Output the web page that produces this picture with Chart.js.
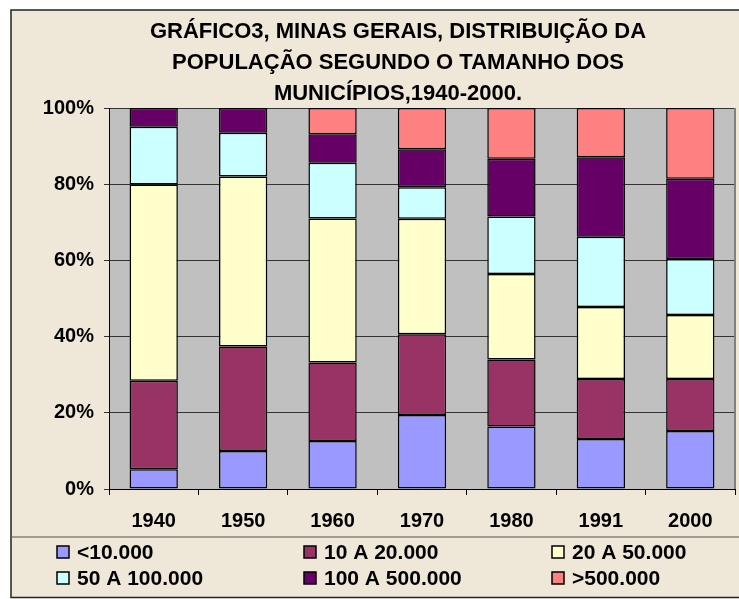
<!DOCTYPE html>
<html lang="pt-BR">
<head>
<meta charset="UTF-8">
<title>Gráfico 3 - Minas Gerais</title>
<script src="https://cdn.jsdelivr.net/npm/chart.js"></script>
<style>
    body { margin: 0; background: #fff; }
    #wrap { width: 739px; height: 599px; }
</style>
</head>
<body>
<div id="wrap"><canvas id="grafico" width="739" height="599"></canvas></div>
<script>
// dados (% da população)
const anos = ['1940', '1950', '1960', '1970', '1980', '1991', '2000'];
const faixas = ['<10.000', '10 A 20.000', '20 A 50.000', '50 A 100.000', '100 A 500.000', '>500.000'];
const ate10mil     = [5.2, 10.0, 12.6, 19.4, 16.4, 13.1, 15.2];
const de10a20mil   = [23.2, 27.4, 20.6, 21.2, 17.6, 15.8, 13.7];
const de20a50mil   = [51.5, 44.6, 37.8, 30.3, 22.4, 18.9, 16.8];
const de50a100mil  = [15.2, 11.5, 14.6, 8.3, 15.1, 18.4, 14.7];
const de100a500mil = [4.9, 6.5, 7.5, 10.0, 15.2, 20.9, 21.0];
const acima500mil  = [0, 0, 6.9, 10.8, 13.3, 12.9, 18.6];
const cores = ['#9999FF', '#993366', '#FFFFCC', '#CCFFFF', '#660066', '#FF8080'];
const titulo = ['GRÁFICO3, MINAS GERAIS, DISTRIBUIÇÃO DA', 'POPULAÇÃO SEGUNDO O TAMANHO DOS', 'MUNICÍPIOS,1940-2000.'];

const series = [ate10mil, de10a20mil, de20a50mil, de50a100mil, de100a500mil, acima500mil];
const fonte = "'Liberation Sans', Arial, sans-serif";

// fundo bege, moldura, área cinza
const fundo = {
    id: 'fundo',
    beforeDraw(chart) {
        const c = chart.ctx, a = chart.chartArea;
        c.save();
        c.fillStyle = '#fff';
        c.fillRect(0, 0, chart.width, chart.height);
        c.fillStyle = '#EFE7D7';
        c.fillRect(11, 10, chart.width, 588);
        c.fillStyle = '#C0C0C0';
        c.fillRect(a.left, a.top, a.right - a.left, a.bottom - a.top);
        c.restore();
    },
    afterDraw(chart) {
        const c = chart.ctx, a = chart.chartArea;
        c.save();
        // borda direita da área de plotagem
        c.strokeStyle = '#808080';
        c.lineWidth = 2;
        c.beginPath();
        c.moveTo(a.right, a.top);
        c.lineTo(a.right, a.bottom);
        c.stroke();
        // moldura do gráfico
        c.strokeStyle = '#222';
        c.lineWidth = 1.5;
        c.strokeRect(11, 10, chart.width + 20, 587.5);
        c.strokeStyle = '#555';
        c.lineWidth = 1.2;
        c.beginPath();
        c.moveTo(11, 537);
        c.lineTo(chart.width, 537);
        c.stroke();
        // título
        c.fillStyle = '#000';
        c.font = 'bold 22px ' + fonte;
        c.textAlign = 'center';
        c.textBaseline = 'middle';
        titulo.forEach((t, i) => c.fillText(t, 398, 32 + i * 31));
        // legenda em 3 colunas
        const colX = [57, 304, 552];
        const linY = [552, 578];
        c.font = 'bold 21px ' + fonte;
        c.textAlign = 'left';
        chart.data.datasets.forEach((ds, i) => {
            const x = colX[i % 3], y = linY[Math.floor(i / 3)];
            c.fillStyle = ds.backgroundColor;
            c.fillRect(x, y - 6, 12, 12);
            c.strokeStyle = '#000';
            c.lineWidth = 1.5;
            c.strokeRect(x, y - 6, 12, 12);
            c.fillStyle = '#000';
            c.fillText(ds.label, x + 20, y + 1);
        });
        c.restore();
    }
};

new Chart(document.getElementById('grafico'), {
    type: 'bar',
    data: {
        labels: anos,
        datasets: faixas.map((f, i) => ({
            label: f,
            data: series[i],
            backgroundColor: cores[i],
            borderColor: '#000',
            borderWidth: 1.5,
            borderSkipped: false,
            barPercentage: 0.54,
            categoryPercentage: 1
        }))
    },
    options: {
        responsive: false,
        animation: false,
        devicePixelRatio: 1,
        layout: { padding: { top: 108, right: 4, bottom: 62, left: 0 } },
        plugins: {
            legend: { display: false },
            title: { display: false },
            tooltip: { enabled: false }
        },
        scales: {
            x: {
                stacked: true,
                afterFit(s) { s.height = 48; },
                grid: { offset: true, drawOnChartArea: false, tickLength: 6, color: '#000' },
                border: { color: '#000', width: 1 },
                ticks: { color: '#000', padding: 14, font: { family: fonte, size: 20, weight: 'bold' } }
            },
            y: {
                stacked: true,
                min: 0,
                max: 100,
                afterFit(s) { s.width = 109; },
                grid: { color: '#333', tickLength: 5, lineWidth: 1 },
                border: { color: '#000', width: 1 },
                ticks: {
                    stepSize: 20,
                    color: '#000',
                    padding: 10,
                    font: { family: fonte, size: 20, weight: 'bold' },
                    callback: v => v + '%'
                }
            }
        }
    },
    plugins: [fundo]
});
</script>
</body>
</html>
